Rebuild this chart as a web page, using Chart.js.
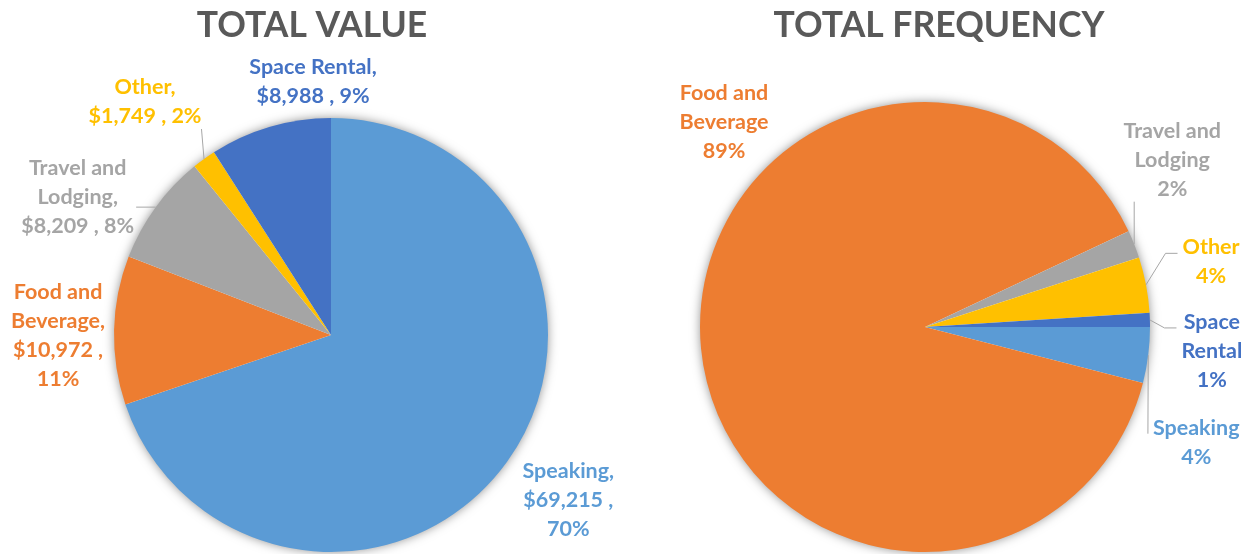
<!DOCTYPE html>
<html>
<head>
<meta charset="utf-8">
<script src="https://cdn.jsdelivr.net/npm/chart.js@4.4.1/dist/chart.umd.min.js"></script>
<style>
    html, body { margin: 0; padding: 0; background: #fff; }
    #wrap { display: flex; width: 1250px; height: 554px; }
    canvas { display: block; }
</style>
</head>
<body>
<div id="wrap">
    <canvas id="valueChart" width="625" height="554"></canvas>
    <canvas id="freqChart" width="625" height="554"></canvas>
</div>
<script>
const categories = ["Speaking", "Food and Beverage", "Travel and Lodging", "Other", "Space Rental"];
const totalValue = [69215, 10972, 8209, 1749, 8988];
const valuePercent = [70, 11, 8, 2, 9];
const frequencyPercent = [4, 89, 2, 4, 1];
const sliceColors = ["#5B9BD5", "#ED7D31", "#A5A5A5", "#FFC000", "#4472C4"];

const LABEL_FONT = "bold 21.5px Lato";
const LEADER_COLOR = "#A6A6A6";

function wrapText(ctx, text, maxWidth) {
    const words = text.split(' ');
    const lines = [];
    let cur = '';
    words.forEach(w => {
        const test = cur ? cur + ' ' + w : w;
        if (cur && ctx.measureText(test).width > maxWidth) {
            lines.push(cur);
            cur = w;
        } else {
            cur = test;
        }
    });
    if (cur) lines.push(cur);
    return lines;
}

// soft glow under the pie, like the excel shadow
const pieShadow = {
    id: 'pieShadow',
    beforeDatasetsDraw(chart) {
        const arc = chart.getDatasetMeta(0).data[0];
        const { x, y, outerRadius } = arc.getProps(['x', 'y', 'outerRadius'], true);
        const ctx = chart.ctx;
        ctx.save();
        ctx.shadowColor = 'rgba(0,0,0,0.5)';
        ctx.shadowBlur = 11;
        ctx.fillStyle = '#fff';
        ctx.beginPath();
        ctx.arc(x, y, outerRadius - 1, 0, Math.PI * 2);
        ctx.fill();
        ctx.restore();
    }
};

function makeTitle(text, x) {
    return {
        id: 'bigTitle',
        afterDraw(chart) {
            const ctx = chart.ctx;
            ctx.save();
            ctx.font = "bold 35.5px Lato";
            ctx.fillStyle = "#595959";
            ctx.textAlign = 'center';
            ctx.textBaseline = 'alphabetic';
            ctx.fillText(text, x, 37);
            ctx.restore();
        }
    };
}

// cfg: segments(i) -> strings, maxWidths, offsets from slice edge, leaders
function makeLabels(cfg) {
    return {
        id: 'pieLabels',
        afterDatasetsDraw(chart) {
            const ctx = chart.ctx;
            const arcs = chart.getDatasetMeta(0).data;
            const lh = 29;
            ctx.save();
            ctx.font = LABEL_FONT;
            ctx.textAlign = 'center';
            ctx.textBaseline = 'middle';
            arcs.forEach((arc, i) => {
                const { x, y, startAngle, endAngle, outerRadius } =
                    arc.getProps(['x', 'y', 'startAngle', 'endAngle', 'outerRadius'], true);
                const mid = (startAngle + endAngle) / 2;
                const sx = x + Math.cos(mid) * outerRadius;
                const sy = y + Math.sin(mid) * outerRadius;
                const cx = sx + cfg.offsets[i][0];
                const cy = sy + cfg.offsets[i][1];

                const lines = cfg.segments(i).flatMap(s => wrapText(ctx, s, cfg.maxWidths[i]));
                const w = Math.max(...lines.map(l => ctx.measureText(l).width));
                const top = cy - lines.length * lh / 2;
                const left = cx - w / 2, right = cx + w / 2, bottom = top + lines.length * lh;

                const leader = cfg.leaders[i];
                if (leader) {
                    ctx.strokeStyle = LEADER_COLOR;
                    ctx.lineWidth = 1;
                    ctx.beginPath();
                    ctx.moveTo(sx, sy);
                    if (leader.side === 'left') {
                        const ex = left - 5, ey = top + lh / 2 + 6;
                        ctx.lineTo(ex - leader.elbow, ey);
                        ctx.lineTo(ex, ey);
                    } else if (leader.side === 'bottom') {
                        ctx.lineTo(Math.min(Math.max(sx, left), right), bottom - 2);
                    } else if (leader.side === 'right') {
                        ctx.lineTo(right + 2, Math.min(Math.max(sy, top), bottom));
                    }
                    ctx.stroke();
                }

                ctx.fillStyle = sliceColors[i];
                lines.forEach((l, k) => ctx.fillText(l, cx, top + lh / 2 + k * lh));
            });
            ctx.restore();
        }
    };
}

const money = v => '$' + v.toLocaleString('en-US');

new Chart(document.getElementById('valueChart'), {
    type: 'pie',
    data: {
        labels: categories,
        datasets: [{
            data: totalValue,
            backgroundColor: sliceColors,
            borderWidth: 0,
        }],
    },
    options: {
        responsive: false,
        animation: false,
        rotation: 0,
        layout: { padding: { top: 118, bottom: 2, left: 114, right: 77 } },
        plugins: {
            legend: { display: false },
            tooltip: { enabled: false },
        },
    },
    plugins: [
        pieShadow,
        makeTitle("TOTAL VALUE", 312),
        makeLabels({
            segments: i => [categories[i] + ',', money(totalValue[i]) + ' , ' + valuePercent[i] + '%'],
            maxWidths: [108, 108, 128, 128, 165],
            offsets: [[61, 39], [-56, 5], [-78, -10], [-59, -57], [43, -45]],
            leaders: [null, null, { side: 'right' }, { side: 'bottom' }, null],
        }),
    ],
});

new Chart(document.getElementById('freqChart'), {
    type: 'pie',
    data: {
        labels: categories,
        datasets: [{
            data: frequencyPercent,
            backgroundColor: sliceColors,
            borderWidth: 0,
        }],
    },
    options: {
        responsive: false,
        animation: false,
        rotation: 90,
        layout: { padding: { top: 102, bottom: 2, left: 75, right: 100 } },
        plugins: {
            legend: { display: false },
            tooltip: { enabled: false },
        },
    },
    plugins: [
        pieShadow,
        makeTitle("TOTAL FREQUENCY", 314),
        makeLabels({
            segments: i => [categories[i], frequencyPercent[i] + '%'],
            maxWidths: [105, 105, 118, 70, 75],
            offsets: [[48, 87], [23, -226], [38, -84], [65, -23], [62, 31]],
            leaders: [{ side: 'left', elbow: 0 }, null, { side: 'bottom' }, { side: 'left', elbow: 12 }, { side: 'left', elbow: 12 }],
        }),
    ],
});
</script>
</body>
</html>
